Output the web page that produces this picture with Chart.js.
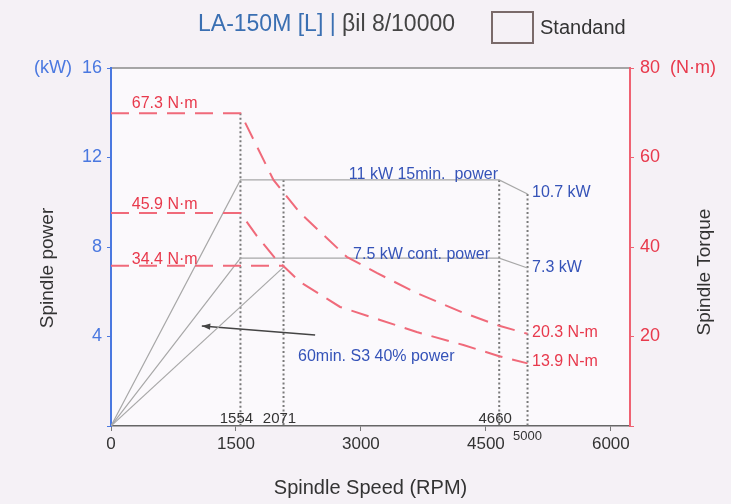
<!DOCTYPE html>
<html><head><meta charset="utf-8">
<script src="https://cdn.jsdelivr.net/npm/chart.js@4.4.0/dist/chart.umd.min.js"></script>
<style>html,body{margin:0;padding:0;background:#f5f1f6;}#wrap{width:731px;height:504px;}</style>
</head><body><div id="wrap"><canvas id="c" width="731" height="504"></canvas></div>
<script>
// ---- data ----
const speedTicks = [0, 1500, 3000, 4500, 6000];
const powerTicks = [0, 4, 8, 12, 16];
const torqueTicks = [0, 20, 40, 60, 80];
const markSpeeds = [1554, 2071, 4660, 5000];
const markLabels = ['1554', '2071', '4660', '5000'];
const markTops = [69.9, 11, 11, 10.37];          // 1554 top on torque axis, others on power axis

const power15Speed = [0, 1554, 4660, 5000];
const power15kW = [0, 11, 11, 10.37];
const powerContSpeed = [0, 1554, 4660, 5000];
const powerContkW = [0, 7.5, 7.5, 7.06];
const powerS3Speed = [0, 2071];
const powerS3kW = [0, 7.1];

const torque15Speed = [0, 1554, 1950, 2270, 2830, 3190, 3670, 4230, 4660, 5000];
const torque15Nm = [69.9, 69.9, 55.0, 47.6, 37.8, 34.2, 29.7, 25.3, 22.4, 20.6];
const torqueContSpeed = [0, 1554, 1750, 1970, 2270, 2750, 3230, 3670, 4230, 4660, 5000];
const torqueContNm = [47.6, 47.6, 42.5, 37.5, 32.2, 26.6, 23.7, 21.0, 18.1, 15.6, 14.0];
const torqueS3Speed = [0, 2071];
const torqueS3Nm = [35.8, 35.8];

const pointerSpeed = [2450, 1090];
const pointerkW = [4.07, 4.47];

// ---- styles ----
const FONT = '"Liberation Sans", Arial, Helvetica, sans-serif';
const BLUE_AX = '#4a78e0', RED_AX = '#ef6272', BLUE_TXT = '#3553b8', RED_TXT = '#e8394c';
const TORQ = '#f06a7a', GRAYL = '#a8a8a8', DOT = '#7a7a7a', DARK = '#333';

const pts = (xs, ys) => xs.map((x, i) => ({x, y: ys[i]}));
const base = {showLine: true, pointRadius: 0, fill: false, tension: 0};

const datasets = [
  {...base, data: pts(torque15Speed, torque15Nm), yAxisID: 'y1', borderColor: TORQ, borderWidth: 2, borderDash: [18, 10]},
  {...base, data: pts(torqueContSpeed, torqueContNm), yAxisID: 'y1', borderColor: TORQ, borderWidth: 2, borderDash: [18, 10]},
  {...base, data: pts(torqueS3Speed, torqueS3Nm), yAxisID: 'y1', borderColor: TORQ, borderWidth: 2, borderDash: [18, 10]},
  {...base, data: pts(power15Speed, power15kW), yAxisID: 'y', borderColor: GRAYL, borderWidth: 1.2},
  {...base, data: pts(powerContSpeed, powerContkW), yAxisID: 'y', borderColor: GRAYL, borderWidth: 1.2},
  {...base, data: pts(powerS3Speed, powerS3kW), yAxisID: 'y', borderColor: GRAYL, borderWidth: 1.2},
  {...base, data: pts(pointerSpeed, pointerkW), yAxisID: 'y', borderColor: '#444', borderWidth: 1.6},
];
markSpeeds.forEach((s, i) => {
  datasets.push({...base, data: [{x: s, y: markTops[i]}, {x: s, y: 0}], yAxisID: i === 0 ? 'y1' : 'y',
    borderColor: DOT, borderWidth: 2, borderDash: [2, 2.5]});
});

// annotation texts
const noteTexts = ['67.3 N·m', '45.9 N·m', '34.4 N·m', '11 kW 15min.  power', '10.7 kW', '7.5 kW cont. power', '7.3 kW', '20.3 N-m', '13.9 N-m', '60min. S3 40% power'];
const noteLayout = [
  {x: 250, y: 72.0, ax: 'y1', al: 'left', c: RED_TXT, s: 16},
  {x: 250, y: 49.4, ax: 'y1', al: 'left', c: RED_TXT, s: 16},
  {x: 250, y: 37.1, ax: 'y1', al: 'left', c: RED_TXT, s: 16},
  {x: 4645, y: 11.22, ax: 'y', al: 'right', c: BLUE_TXT, s: 16},
  {x: 5054, y: 10.41, ax: 'y', al: 'left', c: BLUE_TXT, s: 16},
  {x: 4550, y: 7.64, ax: 'y', al: 'right', c: BLUE_TXT, s: 16},
  {x: 5054, y: 7.06, ax: 'y', al: 'left', c: BLUE_TXT, s: 16},
  {x: 5054, y: 20.8, ax: 'y1', al: 'left', c: RED_TXT, s: 16},
  {x: 5054, y: 14.3, ax: 'y1', al: 'left', c: RED_TXT, s: 16},
  {x: 2245, y: 3.08, ax: 'y', al: 'left', c: BLUE_TXT, s: 16},
];

const deco = {
  id: 'deco',
  beforeDraw(chart) {
    const {ctx, chartArea: a, width, height} = chart;
    ctx.save();
    ctx.fillStyle = '#f5f1f6'; ctx.fillRect(0, 0, width, height);
    ctx.fillStyle = '#fbf9fc'; ctx.fillRect(a.left, a.top, a.right - a.left, a.bottom - a.top);
    ctx.strokeStyle = '#8a8a8a'; ctx.lineWidth = 1.5;
    ctx.beginPath(); ctx.moveTo(a.left, a.top); ctx.lineTo(a.right, a.top); ctx.stroke();
    ctx.restore();
  },
  afterDraw(chart) {
    const {ctx, chartArea: a, scales} = chart;
    const sx = scales.x;
    ctx.save();
    ctx.textBaseline = 'middle';
    // annotations
    noteTexts.forEach((t, i) => {
      const L = noteLayout[i];
      ctx.font = L.s + 'px ' + FONT; ctx.fillStyle = L.c; ctx.textAlign = L.al;
      ctx.fillText(t, sx.getPixelForValue(L.x), scales[L.ax].getPixelForValue(L.y));
    });
    // marker labels
    ctx.fillStyle = DARK; ctx.textAlign = 'center';
    markSpeeds.forEach((s, i) => {
      const px = sx.getPixelForValue(s);
      if (i === 3) { ctx.font = '13px ' + FONT; ctx.fillText(markLabels[i], px, a.bottom + 10); }
      else { ctx.font = '15px ' + FONT; ctx.fillText(markLabels[i], px - 4, a.bottom - 7); }
    });
    // arrow head
    const hx = sx.getPixelForValue(pointerSpeed[1]), hy = scales.y.getPixelForValue(pointerkW[1]);
    const tx = sx.getPixelForValue(pointerSpeed[0]), ty = scales.y.getPixelForValue(pointerkW[0]);
    const ang = Math.atan2(hy - ty, hx - tx);
    ctx.fillStyle = '#444'; ctx.beginPath();
    ctx.moveTo(hx, hy);
    ctx.lineTo(hx - 9 * Math.cos(ang - 0.35), hy - 9 * Math.sin(ang - 0.35));
    ctx.lineTo(hx - 9 * Math.cos(ang + 0.35), hy - 9 * Math.sin(ang + 0.35));
    ctx.closePath(); ctx.fill();
    // axis titles
    ctx.fillStyle = DARK; ctx.font = '19px ' + FONT; ctx.textAlign = 'center';
    ctx.save(); ctx.translate(48, 268); ctx.rotate(-Math.PI / 2); ctx.fillText('Spindle power', 0, 0); ctx.restore();
    ctx.save(); ctx.translate(705, 272); ctx.rotate(-Math.PI / 2); ctx.fillText('Spindle Torque', 0, 0); ctx.restore();
    // title
    ctx.textAlign = 'left'; ctx.font = '23px ' + FONT;
    let x = 198; const ty0 = 25;
    const parts = [['LA-150M [L]', '#3a6fb2'], [' | ', '#3a6fb2'], ['βil 8/10000', '#444']];
    parts.forEach(([t, c]) => { ctx.fillStyle = c; ctx.fillText(t, x, ty0); x += ctx.measureText(t).width; });
    // legend box
    ctx.strokeStyle = '#7a6a6a'; ctx.lineWidth = 2;
    ctx.strokeRect(492, 12, 41, 31);
    ctx.fillStyle = DARK; ctx.font = '20px ' + FONT;
    ctx.fillText('Standand', 540, 28);
    ctx.restore();
  }
};

new Chart(document.getElementById('c'), {
  type: 'scatter',
  data: {datasets},
  plugins: [deco],
  options: {
    responsive: false, animation: false, devicePixelRatio: 1,
    layout: {padding: {top: 68, left: 0, right: 0, bottom: 0}},
    plugins: {legend: {display: false}, tooltip: {enabled: false}},
    scales: {
      x: {
        type: 'linear', min: 0, max: 6230,
        afterBuildTicks: s => { s.ticks = speedTicks.map(v => ({value: v})); },
        afterFit: s => { s.height = 78; },
        grid: {drawOnChartArea: false, drawTicks: true, tickLength: 5, color: '#777'},
        border: {display: true, color: '#666', width: 1.5},
        ticks: {font: {family: FONT, size: 17}, color: DARK, padding: 3, maxRotation: 0, autoSkip: false,
          callback: v => String(v)},
        title: {display: true, text: 'Spindle Speed (RPM)', font: {family: FONT, size: 20}, color: DARK, padding: {top: 0, bottom: 4}}
      },
      y: {
        type: 'linear', position: 'left', min: 0, max: 16,
        afterBuildTicks: s => { s.ticks = powerTicks.map(v => ({value: v})); },
        afterFit: s => { s.width = 111; },
        grid: {drawOnChartArea: false, drawTicks: true, tickLength: 4, color: BLUE_AX},
        border: {display: true, color: BLUE_AX, width: 2},
        ticks: {font: {family: FONT, size: 18}, color: BLUE_AX, padding: 5,
          callback: v => v === 0 ? '' : (v === 16 ? '(kW)  16' : String(v))}
      },
      y1: {
        type: 'linear', position: 'right', min: 0, max: 80,
        afterBuildTicks: s => { s.ticks = torqueTicks.map(v => ({value: v})); },
        afterFit: s => { s.width = 101; },
        grid: {drawOnChartArea: false, drawTicks: true, tickLength: 4, color: RED_AX},
        border: {display: true, color: RED_AX, width: 2},
        ticks: {font: {family: FONT, size: 18}, color: RED_TXT, padding: 6,
          callback: v => v === 0 ? '' : (v === 80 ? '80  (N·m)' : String(v))}
      }
    }
  }
});
</script></body></html>
